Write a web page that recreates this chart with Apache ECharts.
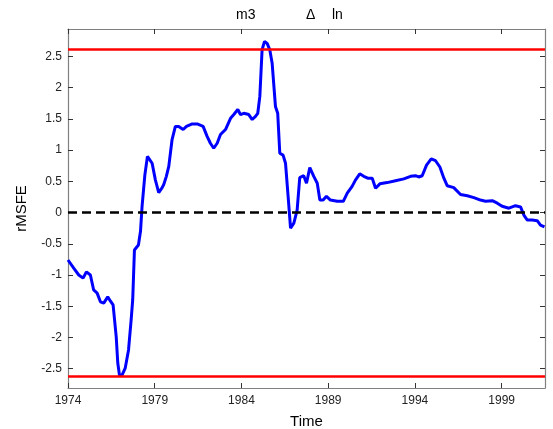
<!DOCTYPE html>
<html>
<head>
<meta charset="utf-8">
<script src="https://cdn.jsdelivr.net/npm/echarts@6/dist/echarts.min.js"></script>
<style>
html,body{margin:0;padding:0;background:#fff;}
#chart{width:553px;height:429px;}
</style>
</head>
<body>
<div id="chart"></div>
<script>
var years = [1974.0,1974.33,1974.62,1974.87,1975.06,1975.29,1975.48,1975.68,1975.87,1976.06,1976.29,1976.45,1976.60,1976.69,1976.78,1976.87,1976.97,1977.10,1977.30,1977.49,1977.64,1977.73,1977.83,1978.06,1978.18,1978.27,1978.43,1978.58,1978.69,1978.85,1979.04,1979.23,1979.43,1979.52,1979.67,1979.81,1980.00,1980.19,1980.38,1980.64,1980.83,1981.16,1981.45,1981.79,1982.02,1982.21,1982.40,1982.60,1982.79,1983.08,1983.37,1983.56,1983.79,1983.94,1984.13,1984.42,1984.62,1984.81,1984.94,1985.06,1985.19,1985.33,1985.48,1985.63,1985.77,1985.96,1986.09,1986.21,1986.40,1986.54,1986.69,1986.83,1987.02,1987.21,1987.36,1987.59,1987.75,1987.94,1988.17,1988.37,1988.52,1988.71,1988.90,1989.13,1989.52,1989.87,1990.10,1990.38,1990.57,1990.82,1991.05,1991.28,1991.54,1991.73,1991.98,1992.40,1992.88,1993.36,1993.75,1994.03,1994.22,1994.42,1994.67,1994.94,1995.19,1995.44,1995.67,1995.86,1996.24,1996.63,1997.02,1997.40,1997.78,1998.07,1998.46,1998.75,1999.03,1999.42,1999.80,2000.09,2000.28,2000.48,2000.76,2001.05,2001.24,2001.47];
var rmsfe = [-0.76,-0.89,-1.00,-1.05,-0.95,-1.00,-1.24,-1.29,-1.43,-1.45,-1.35,-1.42,-1.48,-1.50,-1.99,-2.41,-2.61,-2.61,-2.49,-2.20,-1.72,-1.40,-0.60,-0.52,-0.30,0.10,0.60,0.90,0.88,0.79,0.52,0.32,0.40,0.45,0.58,0.74,1.17,1.38,1.38,1.33,1.38,1.42,1.42,1.38,1.22,1.11,1.03,1.11,1.25,1.33,1.51,1.57,1.65,1.57,1.59,1.57,1.49,1.54,1.59,1.86,2.61,2.74,2.71,2.61,2.39,1.70,1.59,0.95,0.92,0.79,0.26,-0.25,-0.17,0.04,0.56,0.59,0.47,0.72,0.58,0.47,0.20,0.20,0.26,0.20,0.18,0.18,0.31,0.42,0.52,0.62,0.58,0.55,0.55,0.39,0.46,0.48,0.51,0.54,0.58,0.59,0.57,0.59,0.76,0.86,0.83,0.73,0.55,0.43,0.40,0.29,0.27,0.24,0.20,0.18,0.19,0.15,0.10,0.07,0.11,0.09,-0.04,-0.12,-0.12,-0.13,-0.20,-0.23];
var xTicks = [1974,1979,1984,1989,1994,1999];
var yTicks = [-2.5,-2,-1.5,-1,-0.5,0,0.5,1,1.5,2,2.5];
var bounds = [2.62,-2.62];
var zeroLine = [0];

var FONT = '"Liberation Sans", Arial, Helvetica, sans-serif';
var chart = echarts.init(document.getElementById('chart'));
var pts = years.map(function(y,i){return [y, rmsfe[i]];});
var axisLineStyle = {color:'#808080', width:1.2};
var tickStyle = {color:'#333', width:1};
var titleStyle = {fontFamily:FONT,fontSize:14,fontWeight:'normal',color:'#000'};

var option = {
  animation:false,
  backgroundColor:'#fff',
  title:[
    {text:'m3', left:231, top:3, textStyle:titleStyle},
    {text:'\u0394', left:301, top:3, textStyle:titleStyle},
    {text:'ln', left:327, top:3, textStyle:titleStyle}
  ],
  grid:{left:68, right:8, top:29, bottom:41, containLabel:false, outerBoundsMode:'none'},
  xAxis:[
    {type:'value', min:1974, max:2001.5, position:'bottom',
     name:'Time', nameLocation:'middle', nameGap:26,
     nameTextStyle:{fontFamily:FONT,fontSize:15,color:'#000'},
     axisLine:{onZero:false, lineStyle:axisLineStyle},
     axisTick:{inside:true, length:5, lineStyle:tickStyle, customValues:xTicks},
     axisLabel:{fontFamily:FONT,fontSize:12,color:'#222',margin:7, customValues:xTicks, formatter:function(v){return String(v);}},
     splitLine:{show:false}},
    {type:'value', min:1974, max:2001.5, position:'top',
     axisLine:{onZero:false, lineStyle:axisLineStyle},
     axisTick:{inside:true, length:5, lineStyle:tickStyle, customValues:xTicks},
     axisLabel:{show:false},
     splitLine:{show:false}}
  ],
  yAxis:[
    {type:'value', min:-2.81, max:2.94, position:'left',
     name:'rMSFE', nameLocation:'middle', nameGap:39, nameRotate:90,
     nameTextStyle:{fontFamily:FONT,fontSize:15,color:'#000'},
     axisLine:{show:true, onZero:false, lineStyle:axisLineStyle},
     axisTick:{show:true, inside:true, length:5, lineStyle:tickStyle, customValues:yTicks},
     axisLabel:{fontFamily:FONT,fontSize:12,color:'#222',margin:6, customValues:yTicks},
     splitLine:{show:false}},
    {type:'value', min:-2.81, max:2.94, position:'right',
     axisLine:{show:true, onZero:false, lineStyle:axisLineStyle},
     axisTick:{show:true, inside:true, length:5, lineStyle:tickStyle, customValues:yTicks},
     axisLabel:{show:false},
     splitLine:{show:false}}
  ],
  series:[
    {type:'line', xAxisIndex:0, yAxisIndex:0, data:pts, showSymbol:false, symbol:'none',
     lineStyle:{color:'#0000ff', width:3}, z:3,
     markLine:{silent:true, symbol:['none','none'], label:{show:false},
       data:[
         {yAxis:bounds[0], lineStyle:{color:'#ff0000', width:2.5, type:'solid'}},
         {yAxis:bounds[1], lineStyle:{color:'#ff0000', width:2.5, type:'solid'}},
         {yAxis:zeroLine[0], lineStyle:{color:'#000', width:2.5, type:[9,5]}}
       ]}}
  ]
};
chart.setOption(option);
</script>
</body>
</html>
